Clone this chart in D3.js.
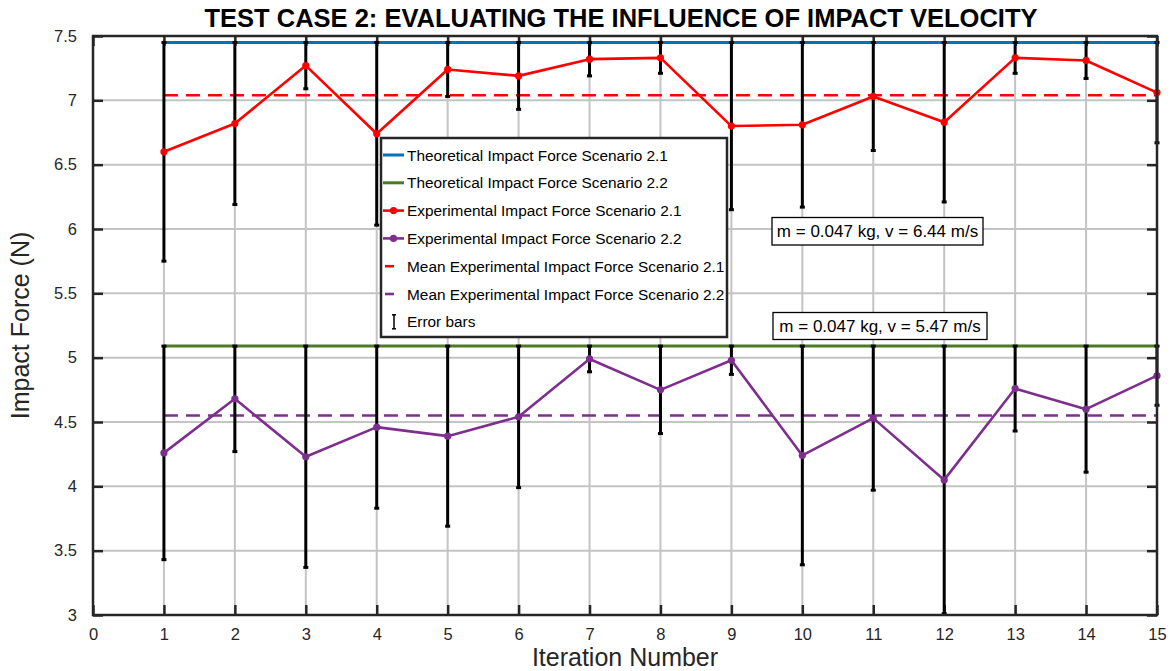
<!DOCTYPE html>
<html>
<head>
<meta charset="utf-8">
<script src="https://cdn.jsdelivr.net/npm/d3@7"></script>
<style>
  html, body { margin: 0; padding: 0; background: #fff; }
  svg { display: block; font-family: "Liberation Sans", Arial, sans-serif; }
</style>
</head>
<body>
<svg id="chart" width="1170" height="671"></svg>
<script>
// ---------- data ----------
const iterations = [1, 2, 3, 4, 5, 6, 7, 8, 9, 10, 11, 12, 13, 14, 15];
const experimental21 = [6.60, 6.82, 7.27, 6.74, 7.24, 7.19, 7.32, 7.33, 6.80, 6.81, 7.03, 6.83, 7.33, 7.31, 7.06];
const experimental22 = [4.26, 4.68, 4.23, 4.46, 4.39, 4.54, 4.99, 4.75, 4.98, 4.24, 4.53, 4.05, 4.76, 4.60, 4.86];
const error21 = [0.85, 0.63, 0.18, 0.71, 0.21, 0.26, 0.13, 0.12, 0.65, 0.64, 0.42, 0.62, 0.12, 0.14, 0.39];
const error22 = [0.83, 0.41, 0.86, 0.63, 0.70, 0.55, 0.10, 0.34, 0.11, 0.85, 0.56, 1.04, 0.33, 0.49, 0.23];
const theoretical21 = 7.45;
const theoretical22 = 5.09;
const mean21 = 7.04;
const mean22 = 4.55;
const xTicks = [0, 1, 2, 3, 4, 5, 6, 7, 8, 9, 10, 11, 12, 13, 14, 15];
const yTicks = [3, 3.5, 4, 4.5, 5, 5.5, 6, 6.5, 7, 7.5];
const titleText = "TEST CASE 2: EVALUATING THE INFLUENCE OF IMPACT VELOCITY";
const xLabelText = "Iteration Number";
const yLabelText = "Impact Force (N)";
const legendLabels = [
  "Theoretical Impact Force Scenario 2.1",
  "Theoretical Impact Force Scenario 2.2",
  "Experimental Impact Force Scenario 2.1",
  "Experimental Impact Force Scenario 2.2",
  "Mean Experimental Impact Force Scenario 2.1",
  "Mean Experimental Impact Force Scenario 2.2",
  "Error bars"
];
const annotations = ["m = 0.047 kg, v = 6.44 m/s", "m = 0.047 kg, v = 5.47 m/s"];

// ---------- layout ----------
const W = 1170, H = 671;
const margin = { left: 93, right: 13, top: 36, bottom: 56 };
const colors = { blue: "#0072BD", green: "#4E7A27", red: "#FF0000", purple: "#7E2F8E", axis: "#262626", grid: "#c4c4c4" };

const svg = d3.select("#chart");
const x = d3.scaleLinear().domain([0, 15]).range([margin.left, W - margin.right]);
const y = d3.scaleLinear().domain([3, 7.5]).range([H - margin.bottom, margin.top]);
const x0 = x.range()[0], x1 = x.range()[1], y0 = y.range()[0], y1 = y.range()[1];

// grid
const grid = svg.append("g");
grid.selectAll("line.gx").data(xTicks.filter(d => d > 0)).join("line")
  .attr("x1", d => x(d)).attr("x2", d => x(d)).attr("y1", y0).attr("y2", y1)
  .attr("stroke", colors.grid).attr("stroke-width", 2);
grid.selectAll("line.gy").data(yTicks).join("line")
  .attr("x1", x0).attr("x2", x1).attr("y1", d => y(d)).attr("y2", d => y(d))
  .attr("stroke", colors.grid).attr("stroke-width", 2);

// axes (D3 axes with inward ticks)
const tickFmt = d => String(d);
const axB = svg.append("g").attr("transform", `translate(0,${y0})`)
  .call(d3.axisBottom(x).tickValues(xTicks).tickFormat(tickFmt).tickSizeInner(-10).tickSizeOuter(0).tickPadding(13));
const axL = svg.append("g").attr("transform", `translate(${x0},0)`)
  .call(d3.axisLeft(y).tickValues(yTicks).tickFormat(tickFmt).tickSizeInner(-10).tickSizeOuter(0).tickPadding(16));
const axT = svg.append("g").attr("transform", `translate(0,${y1})`)
  .call(d3.axisTop(x).tickValues(xTicks).tickFormat("").tickSizeInner(-10).tickSizeOuter(0));
const axR = svg.append("g").attr("transform", `translate(${x1},0)`)
  .call(d3.axisRight(y).tickValues(yTicks).tickFormat("").tickSizeInner(-10).tickSizeOuter(0));
[axB, axL, axT, axR].forEach(a => {
  a.select(".domain").remove();
  a.selectAll(".tick line").attr("stroke", colors.axis).attr("stroke-width", 2.5);
  a.selectAll(".tick text").attr("fill", colors.axis).style("font-size", "16.5px").style("font-family", "Liberation Sans, Arial, sans-serif");
});

// theoretical lines
const hline = (val, col, dash, w) => svg.append("line")
  .attr("x1", x(iterations[0])).attr("x2", x(iterations[iterations.length - 1]))
  .attr("y1", y(val)).attr("y2", y(val))
  .attr("stroke", col).attr("stroke-width", w).attr("stroke-dasharray", dash);
hline(theoretical21, colors.blue, null, 3);
hline(theoretical22, colors.green, null, 3);
hline(mean21, colors.red, "14,8", 2.6);
hline(mean22, colors.purple, "14,8", 2.6);

// error bars
function errorBars(vals, errs) {
  const g = svg.append("g");
  const d = iterations.map((it, i) => ({ x: it, lo: vals[i] - errs[i], hi: vals[i] + errs[i] }));
  g.selectAll("line.v").data(d).join("line")
    .attr("x1", d => x(d.x)).attr("x2", d => x(d.x)).attr("y1", d => y(d.lo)).attr("y2", d => y(d.hi))
    .attr("stroke", "#000").attr("stroke-width", 3);
  ["lo", "hi"].forEach(k => {
    g.selectAll("line.c" + k).data(d).join("line")
      .attr("x1", d => x(d.x) - 2.5).attr("x2", d => x(d.x) + 2.5).attr("y1", d => y(d[k])).attr("y2", d => y(d[k]))
      .attr("stroke", "#000").attr("stroke-width", 3);
  });
}
errorBars(experimental21, error21);
errorBars(experimental22, error22);

// experimental series
function series(vals, col) {
  const pts = iterations.map((it, i) => [it, vals[i]]);
  svg.append("path").datum(pts)
    .attr("d", d3.line().x(d => x(d[0])).y(d => y(d[1])))
    .attr("fill", "none").attr("stroke", col).attr("stroke-width", 2.6).attr("stroke-linejoin", "round");
  svg.append("g").selectAll("circle").data(pts).join("circle")
    .attr("cx", d => x(d[0])).attr("cy", d => y(d[1])).attr("r", 3.6).attr("fill", col);
}
series(experimental21, colors.red);
series(experimental22, colors.purple);

// frame
svg.append("rect").attr("x", x0).attr("y", y1).attr("width", x1 - x0).attr("height", y0 - y1)
  .attr("fill", "none").attr("stroke", colors.axis).attr("stroke-width", 2.5);

// legend
const leg = svg.append("g");
const L = { x: 381, y: 138, w: 346, h: 199, row0: 155, step: 27.8 };
leg.append("rect").attr("x", L.x).attr("y", L.y).attr("width", L.w).attr("height", L.h)
  .attr("fill", "#fff").attr("stroke", colors.axis).attr("stroke-width", 2.5);
const legKinds = [
  { col: colors.blue, type: "line" }, { col: colors.green, type: "line" },
  { col: colors.red, type: "marker" }, { col: colors.purple, type: "marker" },
  { col: colors.red, type: "dash" }, { col: colors.purple, type: "dash" },
  { col: "#000", type: "err" }
];
legendLabels.forEach((lab, i) => {
  const cy = L.row0 + i * L.step;
  const k = legKinds[i];
  if (k.type === "line" || k.type === "marker") {
    leg.append("line").attr("x1", 383).attr("x2", 404).attr("y1", cy).attr("y2", cy)
      .attr("stroke", k.col).attr("stroke-width", k.type === "line" ? 3 : 2.6);
    if (k.type === "marker") leg.append("circle").attr("cx", 393.5).attr("cy", cy).attr("r", 3.6).attr("fill", k.col);
  } else if (k.type === "dash") {
    leg.append("line").attr("x1", 385).attr("x2", 394).attr("y1", cy).attr("y2", cy)
      .attr("stroke", k.col).attr("stroke-width", 2.6);
  } else {
    leg.append("line").attr("x1", 394).attr("x2", 394).attr("y1", cy - 7).attr("y2", cy + 7).attr("stroke", "#000").attr("stroke-width", 1.5);
    leg.append("line").attr("x1", 392).attr("x2", 396).attr("y1", cy - 7).attr("y2", cy - 7).attr("stroke", "#000").attr("stroke-width", 1.5);
    leg.append("line").attr("x1", 392).attr("x2", 396).attr("y1", cy + 7).attr("y2", cy + 7).attr("stroke", "#000").attr("stroke-width", 1.5);
  }
  leg.append("text").attr("x", 407).attr("y", cy + 5.5).text(lab)
    .attr("fill", "#000").style("font-size", "15.4px");
});

// annotations
const annPos = [{ x: 772, y: 217.5, w: 211, h: 27.5 }, { x: 773, y: 312.5, w: 214, h: 27 }];
annotations.forEach((t, i) => {
  const p = annPos[i];
  svg.append("rect").attr("x", p.x).attr("y", p.y).attr("width", p.w).attr("height", p.h)
    .attr("fill", "#fff").attr("stroke", "#000").attr("stroke-width", 1.3);
  svg.append("text").attr("x", p.x + p.w / 2).attr("y", p.y + p.h / 2 + 6).attr("text-anchor", "middle")
    .text(t).attr("fill", "#000").style("font-size", "17px");
});

// titles
svg.append("text").attr("x", (x0 + x1) / 2 - 4).attr("y", 27).attr("text-anchor", "middle")
  .text(titleText).attr("fill", "#000").style("font-size", "25.5px").style("font-weight", "bold");
svg.append("text").attr("x", (x0 + x1) / 2).attr("y", 666).attr("text-anchor", "middle")
  .text(xLabelText).attr("fill", colors.axis).style("font-size", "25px");
svg.append("text").attr("transform", `translate(29,${(y0 + y1) / 2}) rotate(-90)`).attr("text-anchor", "middle")
  .text(yLabelText).attr("fill", colors.axis).style("font-size", "25px");
</script>
</body>
</html>
